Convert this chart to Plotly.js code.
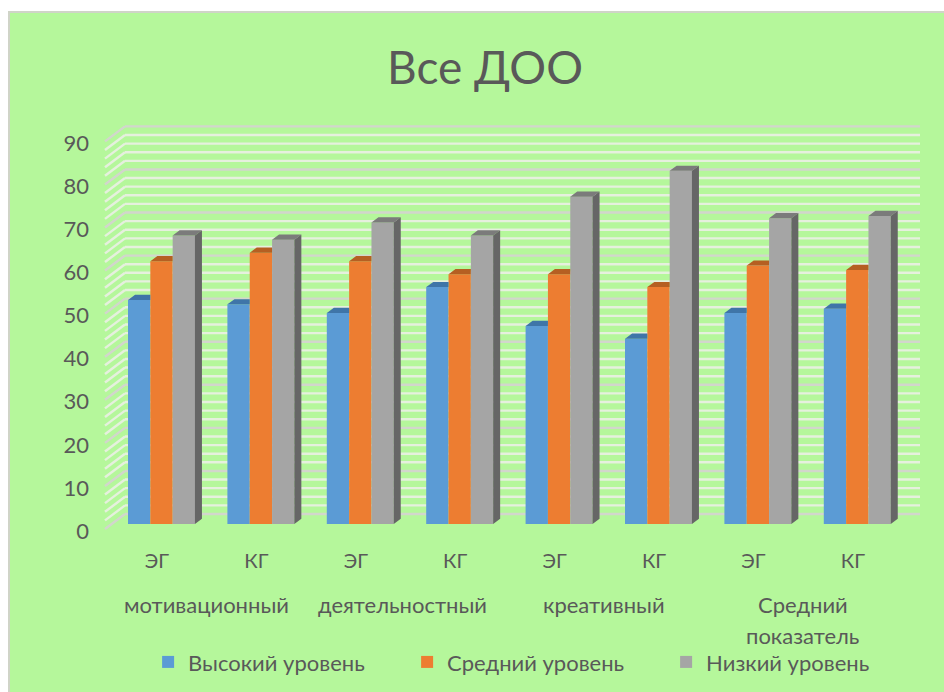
<!DOCTYPE html>
<html><head><meta charset="utf-8">
<script src="https://cdn.plot.ly/plotly-3.0.1.min.js"></script>
<style>
html,body{margin:0;padding:0;background:#fff;width:944px;height:692px;overflow:hidden}
#frame{position:absolute;left:8px;top:11px;width:936px;height:681px;background:#b5f79b;border-left:2px solid #d0d4c8;border-top:2px solid #d0d4c8;box-sizing:border-box}
#chart{position:absolute;left:10px;top:13px;width:934px;height:679px}
</style></head><body>
<div id="frame"></div><div id="chart"></div>
<script>
const categories = ['ЭГ','КГ','ЭГ','КГ','ЭГ','КГ','ЭГ','КГ'];
const high   = [52,51,49,55,46,43,49,50];
const medium = [61,63,61,58,58,55,60,59];
const low    = [67,66,70,67,76,82,71,71.5];
const seriesNames = ['Высокий уровень','Средний уровень','Низкий уровень'];
const groupLabels = ['мотивационный','деятельностный','креативный','Средний','показатель'];
const axisLevels = [0,10,20,30,40,50,60,70,80,90];

const TXT='#595959', BG='#b5f79b';
const faceColors=['#5b9bd5','#ed7d31','#a5a5a5'];
const topColors=['#3f75a8','#b55f22','#7b7b7b'];
const sideColor='#666666';

const pxX=99.4, pxY=4.307;            // scale of the axes
const xr=[(90-161.5)/pxX,(920-161.5)/pxX], yr=[(524-540)/pxY,(524-110)/pxY];
const barW=22.3/pxX, dX=7/pxX, dY=5.2/pxY;
const labelShift=4.5/pxX;
const idx=categories.map((_,i)=>i);

const traces=[];
[high,medium,low].forEach((vals,s)=>{
  traces.push({type:'bar',name:seriesNames[s],x:idx,y:vals,marker:{color:faceColors[s],line:{width:0}},hoverinfo:'x+y'});
});
[high,medium,low].forEach((vals,s)=>{
  const xs=[],ys=[];
  vals.forEach((v,i)=>{
    const l=i+(s-1.5)*barW, r=l+barW;
    if(s<2){xs.push(l,r,r,l+dX,l,null);ys.push(v,v,v+dY,v+dY,v,null);}
    else{xs.push(l,r,r+dX,l+dX,l,null);ys.push(v,v,v+dY,v+dY,v,null);}
  });
  traces.push({type:'scatter',mode:'lines',x:xs,y:ys,fill:'toself',fillcolor:topColors[s],line:{width:0,color:topColors[s]},hoverinfo:'skip',showlegend:false});
});
{
  const xs=[],ys=[];
  low.forEach((v,i)=>{
    const r=i+1.5*barW;
    xs.push(r,r,r+dX,r+dX,r,null);ys.push(0,v,v+dY,dY,0,null);
  });
  traces.push({type:'scatter',mode:'lines',x:xs,y:ys,fill:'toself',fillcolor:sideColor,line:{width:0,color:sideColor},hoverinfo:'skip',showlegend:false});
}

// back wall and side wall gridlines, every 2 units, below the bars
const shapes=[];
const backShift=10/pxY, frontShift=-5/pxY, labelDrop=-7/pxY;
const wallL=(125-161.5)/pxX, sideL=(105-161.5)/pxX;
for(let v=0;v<=90;v+=2){
  const major=axisLevels.includes(v);
  const line={color:major?'#d2d6cc':'#e6f0de',width:2.4};
  shapes.push({type:'line',layer:'below',xref:'x',yref:'y',x0:wallL,x1:xr[1],y0:v+backShift,y1:v+backShift,line});
  shapes.push({type:'line',layer:'below',xref:'x',yref:'y',x0:sideL,x1:wallL,y0:v+frontShift,y1:v+backShift,line});
}

const gx=[0.45,2.42,4.45,6.45,6.45];
const gy=[-0.151,-0.151,-0.151,-0.151,-0.223];
const annotations=groupLabels.map((t,i)=>({text:t,xref:'x',yref:'paper',x:gx[i],y:gy[i],yanchor:'middle',xanchor:'center',showarrow:false,font:{size:22,color:TXT,family:'Lato'}}));

const layout={
  width:934,height:679,autosize:false,
  paper_bgcolor:'rgba(0,0,0,0)',plot_bgcolor:'rgba(0,0,0,0)',
  font:{family:'Lato',color:TXT},
  margin:{l:80,r:24,t:97,b:152,pad:0,autoexpand:false},
  barmode:'group',bargap:0.326,bargroupgap:0,
  title:{text:'Все ДОО',x:0.5086,xanchor:'center',y:0.919,yanchor:'middle',font:{size:46,color:TXT,family:'Lato'}},
  xaxis:{range:xr,tickmode:'array',tickvals:idx.map(i=>i-labelShift),ticktext:categories,showgrid:false,zeroline:false,showline:false,ticks:'outside',ticklen:3,tickcolor:'rgba(0,0,0,0)',tickfont:{size:20,color:TXT}},
  yaxis:{range:yr,tickmode:'array',tickvals:axisLevels.map(v=>v+labelDrop),ticktext:axisLevels.map(String),showgrid:false,zeroline:false,showline:false,ticks:'',tickfont:{size:22,color:TXT}},
  shapes,annotations,
  showlegend:true,
  legend:{orientation:'h',x:0.07,xanchor:'left',y:-0.284,yanchor:'middle',entrywidth:214,entrywidthmode:'pixels',traceorder:'normal',bgcolor:'rgba(0,0,0,0)',font:{size:22,color:TXT,family:'Lato'}}
};
Plotly.newPlot('chart',traces,layout,{displayModeBar:false,staticPlot:true});
</script></body></html>
